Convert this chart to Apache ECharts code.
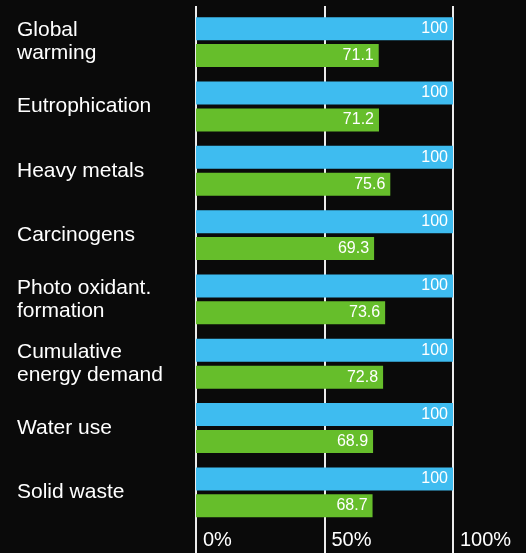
<!DOCTYPE html>
<html>
<head>
<meta charset="utf-8">
<script src="https://cdn.jsdelivr.net/npm/echarts@6/dist/echarts.min.js"></script>
<style>
html,body{margin:0;padding:0;background:#0a0a0a;}
#main{width:526px;height:553px;}
</style>
</head>
<body>
<div id="main"></div>
<script>
const categories = ['Global\nwarming', 'Eutrophication', 'Heavy metals', 'Carcinogens', 'Photo oxidant.\nformation', 'Cumulative\nenergy demand', 'Water use', 'Solid waste'];
const reference = [100, 100, 100, 100, 100, 100, 100, 100];
const improved = [71.1, 71.2, 75.6, 69.3, 73.6, 72.8, 68.9, 68.7];
const tickValues = [0, 50, 100];

const FONT = '"Liberation Sans", Arial, Helvetica, sans-serif';
const chart = echarts.init(document.getElementById('main'));
chart.setOption({
  backgroundColor: '#0a0a0a',
  animation: false,
  grid: [
    {left: 196, right: 73, top: 10, bottom: 28.5, z: 5},
    {left: 196, right: 73, top: 6, bottom: 0, z: 0}
  ],
  xAxis: [
    {gridIndex: 0, type: 'value', min: 0, max: 100, show: false},
    {gridIndex: 1, type: 'value', min: tickValues[0], max: tickValues[tickValues.length - 1], interval: 50,
     position: 'bottom', z: -5,
     axisLine: {show: false}, axisTick: {show: false},
     splitLine: {show: true, lineStyle: {color: '#ececec', width: 2}},
     axisLabel: {inside: true, margin: 3, align: 'left', padding: [0, 0, 0, 7],
       color: '#ffffff', fontSize: 20, fontFamily: FONT, formatter: '{value}%',
       showMinLabel: true, showMaxLabel: true}
    }
  ],
  yAxis: [
    {gridIndex: 0, type: 'category', data: categories, inverse: true,
     axisLine: {show: false}, axisTick: {show: false}, splitLine: {show: false},
     axisLabel: {align: 'left', margin: 179, color: '#ffffff', fontSize: 21, lineHeight: 23, fontFamily: FONT}
    },
    {gridIndex: 1, type: 'value', show: false}
  ],
  series: [
    {type: 'bar', xAxisIndex: 0, yAxisIndex: 0, data: reference, barWidth: 23, barGap: '17%',
     itemStyle: {color: '#3ebcf0'}, z: 10,
     label: {show: true, position: 'insideRight', distance: 5, color: '#ffffff', fontSize: 16, fontFamily: FONT}
    },
    {type: 'bar', xAxisIndex: 0, yAxisIndex: 0, data: improved, barWidth: 23, barGap: '17%',
     itemStyle: {color: '#66be2b'}, z: 10,
     label: {show: true, position: 'insideRight', distance: 5, color: '#ffffff', fontSize: 16, fontFamily: FONT}
    }
  ]
});
</script>
</body>
</html>
